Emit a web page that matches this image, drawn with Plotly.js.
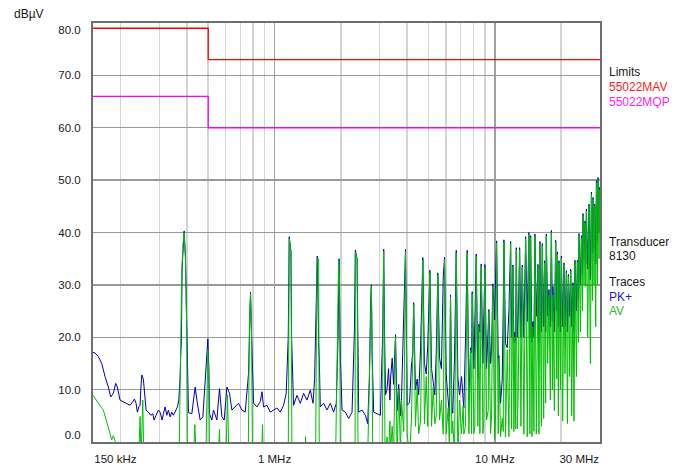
<!DOCTYPE html>
<html>
<head>
<meta charset="utf-8">
<script src="https://cdn.plot.ly/plotly-3.0.1.min.js"></script>
<style>html,body{margin:0;padding:0;background:#fff;}#chart{width:682px;height:465px;}</style>
</head>
<body>
<div id="chart"></div>
<script>
// ---- Data (frequency in MHz, level in dBµV) ----
// PK+ trace, 150 kHz .. 3.2 MHz
const lowPkF = [0.150,0.1532,0.1586,0.1643,0.1701,0.1761,0.1805,0.1855,0.1902,0.1934,
  0.1990,0.2060,0.2134,0.2209,0.2273,0.2311,0.2352,0.2385,0.2420,0.2453,
  0.2471,0.2497,0.2539,0.2566,0.2612,0.2676,0.2744,0.2802,0.2840,0.2900,
  0.2971,0.3024,0.3088,0.3131,0.3187,0.3244,0.3299,0.3358,0.3418,0.3476,
  0.3576,0.3625,0.3678,0.3701,0.3728,0.3756,0.3779,0.3807,0.3848,0.3888,
  0.3941,0.3999,0.4024,0.4067,0.4214,0.4362,0.4441,0.4597,0.4728,0.4844,
  0.4931,0.4982,0.5035,0.5067,0.5195,0.5283,0.5474,0.5626,0.5769,0.5909,
  0.6079,0.6246,0.6405,0.6630,0.6863,0.7112,0.7362,0.7621,0.7701,0.7782,
  0.7864,0.8030,0.8321,0.8613,0.8768,0.8916,0.9240,0.9564,0.9899,1.025,
  1.062,1.099,1.130,1.154,1.166,1.187,1.195,1.203,1.220,1.264,
  1.309,1.355,1.404,1.453,1.495,1.520,1.547,1.563,1.585,1.596,
  1.613,1.670,1.730,1.791,1.854,1.907,1.942,1.962,1.989,2.025,
  2.096,2.170,2.248,2.303,2.327,2.369,2.394,2.409,2.496,2.584,
  2.647,2.694,2.731,2.751,2.772,2.818,2.920,3.023,3.097,3.129,
  3.162];
const lowPkV = [17.1,17.0,16.3,15.0,12.5,10.5,8.6,9.3,11.2,10.5,
  8.0,7.7,7.4,7.0,7.7,8.2,7.4,5.7,6.7,7.0,
  9.9,12.8,12.0,9.3,6.1,5.7,5.1,5.4,4.2,5.1,
  6.1,5.7,4.2,5.4,6.7,5.1,6.1,4.8,5.7,5.1,
  6.1,6.7,8.0,9.3,12.5,16.9,19.7,33.2,38.0,40.3,
  35.4,20.0,18.0,5.6,5.4,10.5,8.0,4.2,4.8,10.9,
  16.0,19.7,14.0,5.4,4.2,6.1,4.2,10.2,4.8,4.2,
  10.5,9.3,6.1,6.7,7.4,6.1,5.7,13.1,24.5,28.6,
  20.6,7.4,6.7,7.7,9.6,6.7,7.0,5.7,6.1,6.5,
  5.7,7.0,9.3,20.0,39.2,36.4,20.0,15.0,7.0,8.9,
  7.4,9.3,8.0,9.9,7.4,12.1,26.0,35.5,19.0,16.0,
  6.7,7.4,6.1,7.4,5.7,7.4,20.0,35.0,16.0,6.1,
  5.7,4.5,5.7,21.0,36.6,35.0,17.0,5.7,6.1,5.1,
  3.5,12.0,27.1,30.0,17.0,5.7,5.4,5.1,21.0,36.8,
  19.0];

// AV trace, 150 kHz .. 3.2 MHz (values below 0 are off the scale)
const lowAvF = [0.150,0.1532,0.1586,0.1643,0.1671,0.1701,0.1731,0.1761,0.1792,0.1824,
  0.1855,0.1888,0.1934,0.2420,0.2453,0.2479,0.2523,0.2550,0.3690,0.3740,
  0.3795,0.3848,0.3888,0.3941,0.3999,0.4024,0.4285,0.4349,0.4408,0.4879,
  0.4931,0.4982,0.5035,0.5067,0.5550,0.5626,0.5667,0.6015,0.6117,0.6207,
  0.7597,0.7701,0.7782,0.7864,0.7946,0.8731,0.8823,0.8888,1.154,1.166,
  1.187,1.200,1.375,1.383,1.393,1.536,1.552,1.563,1.585,1.596,
  1.893,1.954,1.974,1.989,2.320,2.327,2.369,2.394,2.647,2.694,
  2.731,2.751,2.772,2.789,3.077,3.129,3.175];
const lowAvV = [8.9,8.3,7.4,6.5,6.1,5.0,4.2,2.8,1.6,0.4,
  1.2,0.3,-3,-3,4.9,-3,8.0,-3,-3,15,
  33,38,40,35,20,-3,-3,3.3,-3,-3,
  13,17.6,12,-3,-3,2.4,-3,-3,9,-3,
  -3,24.5,28.3,20,-3,-3,3.3,-3,-3,38.8,
  36.4,-3,-3,1,-3,-3,26,35.1,35,-3,
  -3,34.7,30,-3,-3,36.2,35,-3,-3,15,
  27,29.7,20,-3,-3,36.4,-3];

// 3.2 MHz .. 30 MHz, shared frequency points for both traces
const hiF = [3.19,3.24,3.29,3.34,3.36,3.42,3.47,3.54,3.60,3.66,
  3.73,3.77,3.86,3.93,4.00,4.10,4.18,4.24,4.28,4.36,
  4.44,4.51,4.60,4.71,4.79,4.88,4.96,5.07,5.16,5.25,
  5.34,5.42,5.51,5.61,5.72,5.83,5.91,6.01,6.14,6.22,
  6.29,6.38,6.44,6.56,6.68,6.79,6.91,7.06,7.18,7.23,
  7.36,7.49,7.62,7.76,7.84,7.89,8.03,8.11,8.23,8.37,
  8.46,8.55,8.67,8.82,8.91,9.01,9.17,9.33,9.39,9.56,
  9.66,9.79,9.97,10.07,10.18,10.36,10.43,10.61,10.80,10.92,
  10.99,11.18,11.38,11.58,11.79,11.91,12.07,12.20,12.33,12.42,
  12.51,12.64,12.77,12.95,13.13,13.32,13.54,13.79,14.03,14.27,
  14.42,14.53,14.73,14.88,15.04,15.20,15.42,15.69,15.85,16.02,
  16.25,16.42,16.65,16.82,17.00,17.12,17.36,17.60,17.86,18.05,
  18.24,18.35,18.62,18.88,19.08,19.22,19.42,19.54,19.83,20.04,
  20.31,20.59,20.81,21.12,21.34,21.56,21.86,22.09,22.32,22.63,
  22.86,23.10,23.45,23.69,23.94,24.09,24.45,24.71,24.97,25.12,
  25.39,25.65,25.84,26.03,26.39,26.75,27.14,27.43,27.72,27.89,
  28.19,28.39,28.69,28.90,29.21,29.39,29.70,29.92,30.0];
const hiAv = [-3,1,-3,4,-2,3,-3,20,-3,10,
  -2,8,2,36.3,1.6,-3,4,16,26.2,3,
  10.5,1.6,4,34.7,3.5,12.5,3,32.3,3,10.5,
  3.5,5,31.8,4.2,8,1.5,34.8,1.6,6.5,-2,
  27.7,1.6,4,-3,36.1,-3,8,1.6,7,1.5,
  3,36.1,1.6,17.5,1.6,28.3,1.6,3,35.4,3,
  22,1.6,33.5,1.6,4,33.4,4.2,6,24.9,1.6,
  5,29.7,0.5,5,38.0,1.6,16,1.0,4.5,2,
  38.2,1.0,17.6,1.0,37.9,2.5,33.4,2,20,2.5,
  36.7,2.5,10,36.7,3,33.4,1.5,38.8,1.0,39.6,
  1.5,39.0,1.0,22,2,39.3,1.5,33.5,1.5,37.9,
  3,37.5,4.5,34.2,7.4,39.3,15,28,8,40.0,
  10,28,6,38.1,12,35.9,5,34.2,10,35.1,
  4,33.8,13,32.3,3.5,31.6,12.5,32.6,5,30.0,
  4,34.3,12.5,34.3,19,39.4,21,39.0,25,43.2,
  30,41.8,29.7,44.1,20,45.0,15,47.3,27,46.3,
  30,45.0,22,49.5,30,50.1,35,48.2,42];
const hiPk = [9,10,14,8,12,16,11,20.5,6,11,
  5,8.5,24,36.8,7,7.5,14.5,17,26.6,10,
  12,9,18,35.2,15,13,18.5,32.8,14,11,
  9,17,32.3,16,14,31.5,35.3,13,7,5,
  28.1,6.5,5.5,16,36.6,12.5,9,12.5,8,6.5,
  20,36.6,8,18,17,28.7,14,22.7,35.9,12,
  22.5,21,34,15,22,33.9,14,24.6,25.3,15,
  17.5,30.2,23.3,31,38.4,15.5,16.5,7.4,12,26.5,
  38.6,18.8,18,25,38.3,20,33.8,19,21,19,
  37.1,20,24,37.1,20,33.8,20,39.2,23,40,
  20,39.4,19,23,20,39.7,24,33.9,19,38.3,
  21,37.9,22,34.6,21,39.7,24,29.1,22,40.4,
  23,29.7,21,38.5,25,36.3,22,34.6,21,35.5,
  22,34.2,22,32.7,21,32,24,33,22,30.4,
  21,34.7,25,34.7,27,39.8,30,39.4,32,43.6,
  35,42.2,34,44.5,33,45.4,31,47.7,36,46.7,
  37,45.4,34,49.9,38,50.5,40,48.6,45];

// Limit lines
const limF = [0.15, 0.5, 0.5, 30];
const limMAV = [79, 79, 73, 73];
const limMQP = [66, 66, 60, 60];

// Axis ticks
const yTickVals = [0,10,20,30,40,50,60,70,80];
const yTickText = ['0.0','10.0','20.0','30.0','40.0','50.0','60.0','70.0','80.0'];
const xTickVals = [0.15, 1, 10, 30];
const xTickText = ['150 kHz','1 MHz','10 MHz','30 MHz'];
const xMinorVals = [0.2,0.3,0.4,0.5,0.6,0.7,0.8,0.9,2,3,4,5,6,7,8,9,20];

// ---- Plot ----
const NB = '\u00a0';
const xText = xTickText.slice();
xText[0] = NB.repeat(14) + xText[0];
xText[3] = xText[3] + NB.repeat(13);
// edge labels are drawn inside the frame, as in the original
const yText = yTickText.slice();
yText[0] = yText[0] + '<br>' + NB;
yText[yText.length - 1] = NB + '<br>' + yText[yText.length - 1];

const traces = [
  {x: lowPkF.concat(hiF), y: lowPkV.concat(hiPk), type:'scatter', mode:'lines',
   line:{color:'#0000b4', width:1}, name:'PK+', hoverinfo:'skip'},
  {x: lowAvF.concat(hiF), y: lowAvV.concat(hiAv), type:'scatter', mode:'lines',
   line:{color:'#00c000', width:1}, name:'AV', hoverinfo:'skip'},
  {x: limF, y: limMQP, type:'scatter', mode:'lines', line:{color:'#ff00ff', width:1.3}, name:'55022MQP'},
  {x: limF, y: limMAV, type:'scatter', mode:'lines', line:{color:'#ff0000', width:1.3}, name:'55022MAV'}
];

const fnt = {family:'"Liberation Sans", Arial, sans-serif', size:12, color:'#1a1a1a'};
function ann(text, y, color){
  return {xref:'paper', yref:'paper', x:1.0148, y:y, xanchor:'left', yanchor:'middle',
          text:text, showarrow:false, height:13, borderpad:0,
          font:Object.assign({}, fnt, {color:color||'#1a1a1a'})};
}

const layout = {
  width:682, height:465,
  margin:{l:93, r:82, t:23, b:23, pad:0},
  paper_bgcolor:'#ffffff', plot_bgcolor:'#ffffff',
  showlegend:false,
  xaxis:{type:'log', range:[Math.log10(0.15), Math.log10(30)],
    tickmode:'array', tickvals:xTickVals, ticktext:xText,
    showgrid:true, gridcolor:'#a0a0a0', gridwidth:1.3,
    minor:{tickmode:'array', tickvals:xMinorVals, showgrid:true, gridcolor:'#d4d4d4', gridwidth:1.5, ticks:''},
    showline:true, mirror:true, linecolor:'#6e6e6e', linewidth:2,
    ticks:'', ticklabelstandoff:5, zeroline:false,
    tickfont:{family:'"Liberation Sans", Arial, sans-serif', size:11.5, color:'#1a1a1a'}},
  yaxis:{range:[0,80], tickmode:'array', tickvals:yTickVals, ticktext:yText,
    showgrid:true, gridcolor:'#9a9a9a', gridwidth:1.3,
    showline:true, mirror:true, linecolor:'#6e6e6e', linewidth:2,
    ticks:'', ticklabelstandoff:8, zeroline:false,
    tickfont:{family:'"Liberation Sans", Arial, sans-serif', size:11.5, color:'#1a1a1a'}},
  annotations:[
    {xref:'paper', yref:'paper', x:-0.1598, y:1.0215, xanchor:'left', yanchor:'middle',
     text:'dBµV', showarrow:false, font:fnt},
    ann('Limits', 0.8831),
    ann('55022MAV', 0.8484, '#ff1a1a'),
    ann('55022MQP', 0.8126, '#ff1aff'),
    ann('Transducer', 0.478),
    ann('8130', 0.4463),
    ann('Traces', 0.3826),
    ann('PK+', 0.3468, '#1a1ad0'),
    ann('AV', 0.315, '#2cc02c')
  ]
};

Plotly.newPlot('chart', traces, layout, {staticPlot:true, displayModeBar:false});
</script>
</body>
</html>
